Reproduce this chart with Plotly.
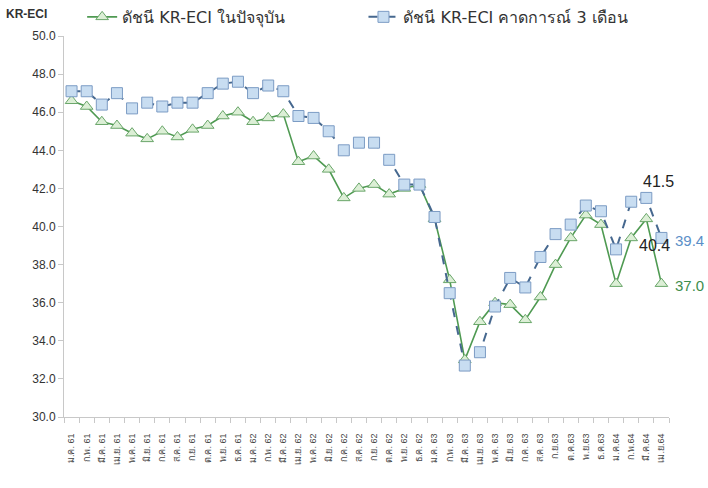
import plotly.graph_objects as go

months = [
    "ม.ค. 61", "ก.พ. 61", "มี.ค. 61", "เม.ย. 61", "พ.ค. 61", "มิ.ย. 61",
    "ก.ค. 61", "ส.ค. 61", "ก.ย. 61", "ต.ค. 61", "พ.ย. 61", "ธ.ค. 61",
    "ม.ค. 62", "ก.พ. 62", "มี.ค. 62", "เม.ย. 62", "พ.ค. 62", "มิ.ย. 62",
    "ก.ค. 62", "ส.ค. 62", "ก.ย. 62", "ต.ค. 62", "พ.ย. 62", "ธ.ค. 62",
    "ม.ค. 63", "ก.พ. 63", "มี.ค. 63", "เม.ย. 63", "พ.ค. 63", "มิ.ย. 63",
    "ก.ค. 63", "ส.ค. 63", "ก.ย.63", "ต.ค.63", "พ.ย.63", "ธ.ค.63",
    "ม.ค.64", "ก.พ.64", "มี.ค.64", "เม.ย.64",
]

current_index = [
    46.6, 46.3, 45.5, 45.3, 44.9, 44.6, 45.0, 44.7, 45.1, 45.3,
    45.8, 46.0, 45.5, 45.7, 45.9, 43.4, 43.7, 43.0, 41.5, 42.0,
    42.2, 41.7, 42.0, 42.2, 40.4, 37.2, 33.0, 35.0, 36.0, 35.9,
    35.1, 36.3, 38.0, 39.4, 40.6, 40.1, 37.0, 39.4, 40.4, 37.0,
]

expected_index = [
    47.1, 47.1, 46.4, 47.0, 46.2, 46.5, 46.3, 46.5, 46.5, 47.0,
    47.5, 47.6, 47.0, 47.4, 47.1, 45.8, 45.7, 45.0, 44.0, 44.4,
    44.4, 43.5, 42.2, 42.2, 40.5, 36.5, 32.7, 33.4, 35.8, 37.3,
    36.8, 38.4, 39.6, 40.1, 41.1, 40.8, 38.8, 41.3, 41.5, 39.4,
]

y_ticks = [30, 32, 34, 36, 38, 40, 42, 44, 46, 48, 50]

FONT = "Liberation Sans, Arial, DejaVu Sans, sans-serif"
LEGEND_FONT = "DejaVu Sans, Liberation Sans, sans-serif"

fig = go.Figure()

fig.add_trace(go.Scatter(
    x=months, y=current_index, mode="lines+markers",
    name="ดัชนี KR-ECI ในปัจจุบัน", legend="legend",
    line=dict(color="#4f9a52", width=1.6),
    marker=dict(symbol="triangle-up", size=11, color="#dcefd6",
                line=dict(color="#6aa66a", width=1)),
))

fig.add_trace(go.Scatter(
    x=months, y=expected_index, mode="lines+markers",
    name="ดัชนี KR-ECI คาดการณ์ 3 เดือน", legend="legend2",
    line=dict(color="#46688f", width=2, dash="dash"),
    marker=dict(symbol="square", size=11, color="#c8ddf1",
                line=dict(color="#7c9cc4", width=1)),
))

last = len(months) - 1
fig.add_annotation(x=months[last - 1], y=expected_index[last - 1], text="41.5",
                   showarrow=False, xshift=12, yshift=16,
                   font=dict(size=16, color="#222222", family=FONT))
fig.add_annotation(x=months[last - 1], y=current_index[last - 1], text="40.4",
                   showarrow=False, xshift=8, yshift=-27,
                   font=dict(size=16, color="#222222", family=FONT))
fig.add_annotation(x=months[last], y=expected_index[last], text="39.4",
                   showarrow=False, xanchor="left", xshift=12, yshift=-3,
                   font=dict(size=15, color="#5b8fc8", family=FONT))
fig.add_annotation(x=months[last], y=current_index[last], text="37.0",
                   showarrow=False, xanchor="left", xshift=12, yshift=-2,
                   font=dict(size=15, color="#3e8d4c", family=FONT))
fig.add_annotation(xref="paper", yref="paper", x=-0.062, y=1.058,
                   text="<b>KR-ECI</b>", showarrow=False, xanchor="center",
                   yanchor="middle",
                   font=dict(size=12, color="#333333", family=FONT))

legend_common = dict(orientation="h", xanchor="left", yanchor="middle",
                     font=dict(size=16, color="#333333", family=LEGEND_FONT),
                     bgcolor="rgba(0,0,0,0)")

fig.update_layout(
    width=708, height=488,
    margin=dict(l=64, r=39, t=36, b=71, autoexpand=False),
    paper_bgcolor="white", plot_bgcolor="white",
    showlegend=True,
    legend=dict(x=0.03, y=1.05, **legend_common),
    legend2=dict(x=0.495, y=1.05, **legend_common),
    font=dict(family=FONT),
)

fig.update_xaxes(
    type="category", showgrid=False, showline=True, linecolor="#c8c8c8",
    ticks="outside", tickson="boundaries", ticklen=5, tickcolor="#c8c8c8",
    tickangle=-90, tickfont=dict(size=9, color="#444444", family=FONT),
    ticklabelstandoff=12, range=[-0.5, last + 0.5], automargin=False,
)

fig.update_yaxes(
    range=[30, 50], tickvals=y_ticks,
    ticktext=[f"{v:.1f}" for v in y_ticks],
    showgrid=False, showline=True, linecolor="#c8c8c8",
    ticks="outside", ticklen=5, tickcolor="#c8c8c8",
    tickfont=dict(size=12, color="#333333", family=FONT),
    zeroline=False, automargin=False,
)
fig.update_yaxes(tickprefix="<b>", ticksuffix="</b>")

fig.write_html("out.html",
               config={"displayModeBar": False},
               post_script="document.body.style.margin='0';"
                           "document.body.style.overflow='hidden';")
